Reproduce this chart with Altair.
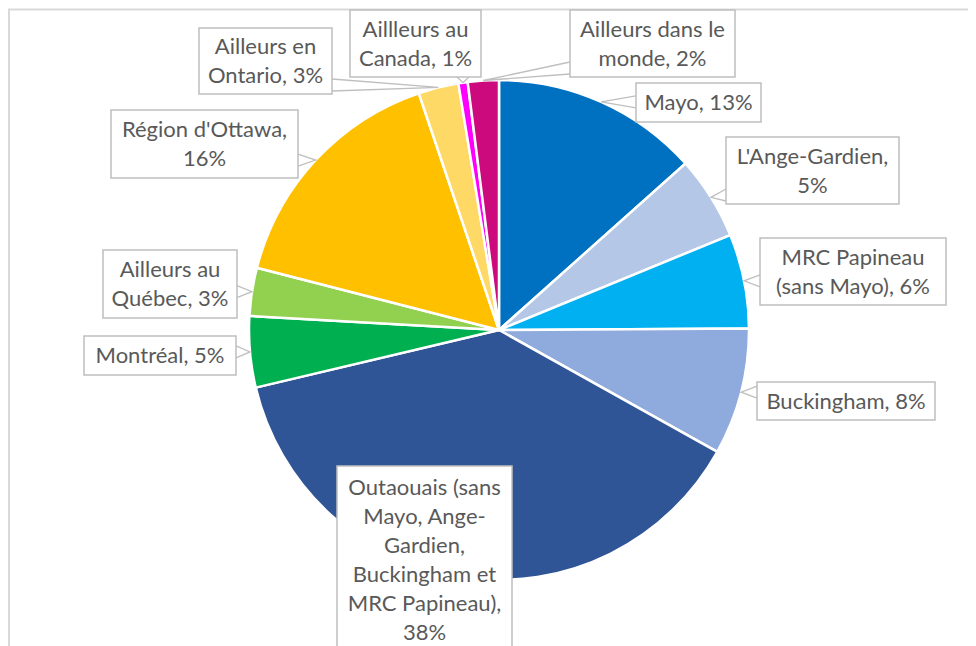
import math
import altair as alt
import pandas as pd

# ---------------- data ----------------
categories = [
    "Mayo",
    "L'Ange-Gardien",
    "MRC Papineau (sans Mayo)",
    "Buckingham",
    "Outaouais (sans Mayo, Ange-Gardien, Buckingham et MRC Papineau)",
    "Montréal",
    "Ailleurs au Québec",
    "Région d'Ottawa",
    "Ailleurs en Ontario",
    "Aillleurs au Canada",
    "Ailleurs dans le monde",
]
values = [13.4, 5.4, 6.1, 8.2, 38.2, 4.6, 3.1, 15.8, 2.6, 0.6, 2.0]
label_texts = [
    "Mayo, 13%",
    "L'Ange-Gardien,\n5%",
    "MRC Papineau\n(sans Mayo), 6%",
    "Buckingham, 8%",
    "Outaouais (sans\nMayo, Ange-\nGardien,\nBuckingham et\nMRC Papineau),\n38%",
    "Montréal, 5%",
    "Ailleurs au\nQuébec, 3%",
    "Région d'Ottawa,\n16%",
    "Ailleurs en\nOntario, 3%",
    "Aillleurs au\nCanada, 1%",
    "Ailleurs dans le\nmonde, 2%",
]
colors = [
    "#0070C0", "#B4C7E7", "#00B0F0", "#8FAADC", "#2F5597",
    "#00B050", "#92D050", "#FFC000", "#FFD966", "#FF00FF", "#CC0A7E",
]

# ---------------- layout (page pixels) ----------------
OFF = 8
W, H = 960, 638
CX, CY, R = 499, 330, 250
LINE_H = 29
boxes = [  # left, top, right, bottom
    (636, 83, 761, 122),
    (726, 137, 899, 204),
    (760, 238, 946, 305),
    (757, 382, 935, 420),
    (337, 466, 512, 656),
    (84, 336, 236, 375),
    (103, 250, 237, 318),
    (111, 110, 298, 178),
    (199, 28, 332, 94),
    (350, 10, 481, 77),
    (570, 10, 735, 77),
]
text_centres_y = [None, None, None, None, 560, None, None, None, None, None, None]

pie_df = pd.DataFrame({"cat": categories, "value": values,
                       "idx": list(range(len(categories)))})


def clamp(v, lo, hi):
    return max(lo, min(hi, v))


total = sum(values)
cum = 0.0
box_rows, ptr_rows = [], []
half = 6
for i, (cat, v, txt, b) in enumerate(zip(categories, values, label_texts, boxes)):
    mid = (cum + v / 2) / total * 2 * math.pi
    cum += v
    tx = CX + R * math.sin(mid)
    ty = CY - R * math.cos(mid)
    l, t, r, bt = b
    n_lines = txt.count("\n") + 1
    cyc = text_centres_y[i] if text_centres_y[i] is not None else (t + bt) / 2
    box_rows.append(dict(cat=cat, x0=l - OFF, x1=r - OFF, y0=t - OFF, y1=bt - OFF,
                         cx=(l + r) / 2 - OFF,
                         ty=cyc - (n_lines - 1) * LINE_H / 2 - OFF + 0.5,
                         text=txt))
    if l <= tx <= r and t <= ty <= bt:
        continue
    if tx < l:
        c = clamp(ty, t + half + 3, bt - half - 3)
        pts = [(l, c - half), (tx, ty), (l, c + half)]
    elif tx > r:
        c = clamp(ty, t + half + 3, bt - half - 3)
        pts = [(r, c - half), (tx, ty), (r, c + half)]
    elif ty > bt:
        c = clamp(tx, l + half + 3, r - half - 3)
        pts = [(c - half, bt), (tx, ty), (c + half, bt)]
    else:
        c = clamp(tx, l + half + 3, r - half - 3)
        pts = [(c - half, t), (tx, ty), (c + half, t)]
    for s, (px, py) in enumerate(pts):
        ptr_rows.append(dict(cat=cat, seq=s, px=px - OFF, py=py - OFF))

box_df = pd.DataFrame(box_rows)
ptr_df = pd.DataFrame(ptr_rows)
one = pd.DataFrame({"k": [0]})

border_top = alt.Chart(one).mark_rule(color="#D9D9D9", strokeWidth=2).encode(
    x=alt.value(0), x2=alt.value(W), y=alt.value(1.5))
border_left = alt.Chart(one).mark_rule(color="#D9D9D9", strokeWidth=2).encode(
    x=alt.value(1), y=alt.value(1), y2=alt.value(H))

pie = alt.Chart(pie_df).mark_arc(outerRadius=R, stroke="white", strokeWidth=2.5).encode(
    theta=alt.Theta("value:Q", stack=True),
    order=alt.Order("idx:Q"),
    color=alt.Color("cat:N", scale=alt.Scale(domain=categories, range=colors), legend=None),
    x=alt.value(CX - OFF),
    y=alt.value(CY - OFF),
)

pointers = alt.Chart(ptr_df).mark_line(color="#BFBFBF", strokeWidth=1.3).encode(
    x=alt.X("px:Q", scale=None, axis=None),
    y=alt.Y("py:Q", scale=None, axis=None),
    detail="cat:N",
    order="seq:Q",
)

rects = alt.Chart(box_df).mark_rect(fill="white", stroke="#BFBFBF", strokeWidth=1.5).encode(
    x=alt.X("x0:Q", scale=None, axis=None), x2="x1:Q",
    y=alt.Y("y0:Q", scale=None, axis=None), y2="y1:Q",
)

texts = alt.Chart(box_df).mark_text(
    font="Lato", fontSize=22, color="#595959", lineBreak="\n", lineHeight=LINE_H,
    align="center", baseline="middle",
).encode(
    x=alt.X("cx:Q", scale=None, axis=None),
    y=alt.Y("ty:Q", scale=None, axis=None),
    text="text:N",
)

chart = alt.layer(border_top, border_left, pie, pointers, rects, texts).properties(
    width=W, height=H, padding=0, autosize="none"
).configure_view(stroke=None)

chart.save("out.html", embed_options={"renderer": "svg", "actions": False})
